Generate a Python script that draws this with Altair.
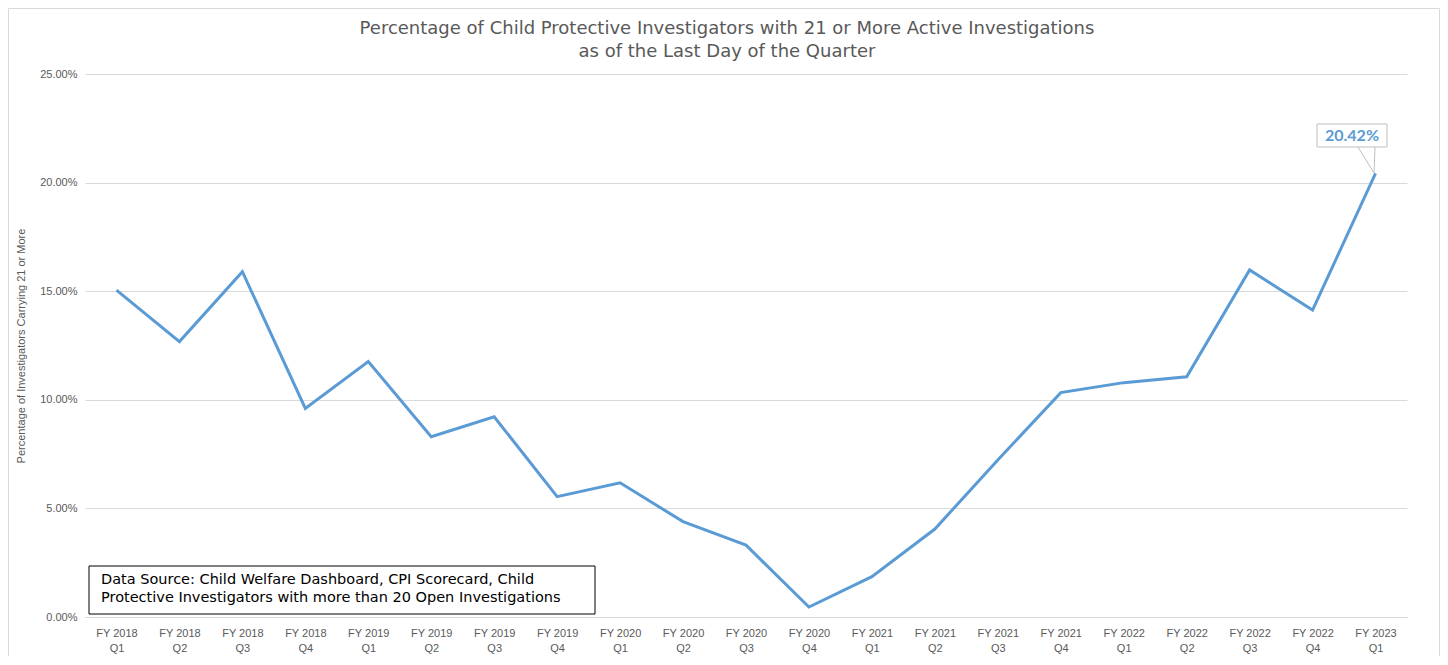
import altair as alt
import pandas as pd

quarters = [
    "FY 2018 Q1", "FY 2018 Q2", "FY 2018 Q3", "FY 2018 Q4",
    "FY 2019 Q1", "FY 2019 Q2", "FY 2019 Q3", "FY 2019 Q4",
    "FY 2020 Q1", "FY 2020 Q2", "FY 2020 Q3", "FY 2020 Q4",
    "FY 2021 Q1", "FY 2021 Q2", "FY 2021 Q3", "FY 2021 Q4",
    "FY 2022 Q1", "FY 2022 Q2", "FY 2022 Q3", "FY 2022 Q4",
    "FY 2023 Q1",
]
percent_values = [
    15.05, 12.68, 15.90, 9.60,
    11.76, 8.30, 9.22, 5.54,
    6.18, 4.39, 3.31, 0.46,
    1.86, 4.05, 7.23, 10.33,
    10.79, 11.06, 15.98, 14.13,
    20.42,
]
y_ticks = [0, 0.05, 0.10, 0.15, 0.20, 0.25]

title_line1 = "Percentage of Child Protective Investigators with 21 or More Active Investigations"
title_line2 = "as of the Last Day of the Quarter"
y_title = "Percentage of Investigators Carrying 21 or More"
source_text = ("Data Source: Child Welfare Dashboard, CPI Scorecard, Child\n"
               "Protective Investigators with more than 20 Open Investigations")
callout_text = "20.42%"

df = pd.DataFrame({"quarter": quarters, "value": [v / 100 for v in percent_values]})

W, H = 1322, 543
LINE = "#5B9BD5"
FONT = "Liberation Sans"
TFONT = "DejaVu Sans"

line = alt.Chart(df).mark_line(color=LINE, strokeWidth=3).encode(
    x=alt.X(
        "quarter:O", sort=quarters, title=None,
        scale=alt.Scale(type="point", padding=0.5),
        axis=alt.Axis(
            labelAngle=0, ticks=False, grid=False, domain=True,
            domainColor="#D9D9D9", labelColor="#595959", labelFontSize=11,
            labelFont=FONT, labelPadding=10, labelLineHeight=15,
            labelExpr="[substring(datum.label,0,7), substring(datum.label,8)]",
        ),
    ),
    y=alt.Y(
        "value:Q", title=y_title,
        scale=alt.Scale(domain=[0, 0.25], nice=False),
        axis=alt.Axis(
            values=y_ticks, format=".2%", ticks=False, domain=False,
            gridColor="#D9D9D9", labelColor="#595959", labelFontSize=11,
            labelFont=FONT, labelPadding=8, titleFont=FONT, titleFontSize=11,
            titleFontWeight="normal", titleColor="#595959", titlePadding=13,
        ),
    ),
)

one = alt.Data(values=[{"a": 1}])

frame_color = "#D9D9D9"
frame_left = alt.Chart(one).mark_rule(color=frame_color, strokeWidth=1).encode(
    x=alt.value(-76.5), y=alt.value(-65.5), y2=alt.value(582)
)
frame_top = alt.Chart(one).mark_rule(color=frame_color, strokeWidth=1).encode(
    x=alt.value(-76.5), x2=alt.value(1354.5), y=alt.value(-65.5)
)
frame_right = alt.Chart(one).mark_rule(color=frame_color, strokeWidth=1).encode(
    x=alt.value(1354.5), y=alt.value(-65.5), y2=alt.value(582)
)

title1 = alt.Chart(one).mark_text(
    align="center", baseline="middle", font=TFONT, fontSize=18, color="#595959",
).encode(x=alt.value(642), y=alt.value(-45), text=alt.value(title_line1))
title2 = alt.Chart(one).mark_text(
    align="center", baseline="middle", font=TFONT, fontSize=18, color="#595959",
).encode(x=alt.value(642), y=alt.value(-22), text=alt.value(title_line2))

source_box = alt.Chart(one).mark_rect(fill="white", stroke="black", strokeWidth=1).encode(
    x=alt.value(4), x2=alt.value(510), y=alt.value(492), y2=alt.value(540)
)
source_label = alt.Chart(one).mark_text(
    align="left", baseline="middle", lineBreak="\n", lineHeight=18,
    font=TFONT, fontSize=14.5, color="black",
).encode(x=alt.value(16), y=alt.value(506), text=alt.value(source_text))

callout_box = alt.Chart(one).mark_rect(fill="white", stroke="#BFBFBF", strokeWidth=1).encode(
    x=alt.value(1232), x2=alt.value(1302), y=alt.value(50), y2=alt.value(73)
)
pointer1 = alt.Chart(one).mark_rule(color="#BFBFBF", strokeWidth=1).encode(
    x=alt.value(1273), y=alt.value(73), x2=alt.value(1289), y2=alt.value(99)
)
pointer2 = alt.Chart(one).mark_rule(color="#BFBFBF", strokeWidth=1).encode(
    x=alt.value(1290), y=alt.value(73), x2=alt.value(1289), y2=alt.value(99)
)
callout_label = alt.Chart(one).mark_text(
    align="center", baseline="middle", font="Lato", fontSize=16,
    fontWeight="bold", color=LINE,
).encode(x=alt.value(1267), y=alt.value(62), text=alt.value(callout_text))

chart = alt.layer(
    frame_left, frame_top, frame_right, title1, title2,
    line, source_box, source_label, pointer1, pointer2, callout_box, callout_label
).properties(
    width=W, height=H,
    autosize=alt.AutoSizeParams(type="none"),
    padding={"left": 77, "top": 66, "right": 33, "bottom": 39},
).configure_view(strokeWidth=0)

chart.save("out.html", embed_options={"renderer": "svg", "actions": False})
